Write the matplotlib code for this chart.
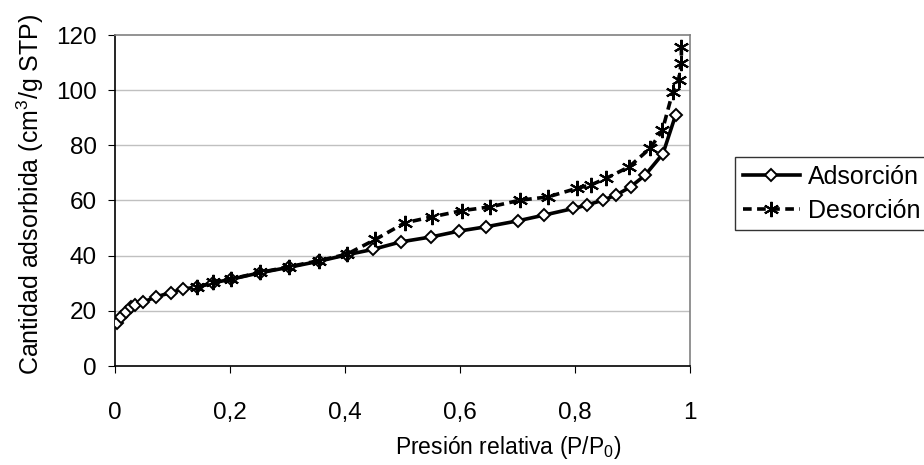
import matplotlib
matplotlib.use("Agg")
import matplotlib.pyplot as plt

plt.rcParams['font.family'] = ['Liberation Sans', 'DejaVu Sans']
plt.rcParams['mathtext.fontset'] = 'custom'
plt.rcParams['mathtext.rm'] = 'Liberation Sans'
plt.rcParams['mathtext.it'] = 'Liberation Sans:italic'

# Adsorption branch (relative pressure, cm3/g STP)
ads_x = [0.003, 0.010, 0.019, 0.028, 0.035, 0.048, 0.072, 0.097, 0.119, 0.142,
         0.171, 0.201, 0.252, 0.303, 0.355, 0.403, 0.449, 0.497, 0.550, 0.598,
         0.646, 0.700, 0.746, 0.797, 0.820, 0.848, 0.872, 0.897, 0.922, 0.953,
         0.975]
ads_y = [15.7, 17.6, 19.7, 21.3, 22.1, 23.1, 25.1, 26.6, 28.0, 28.5,
         30.2, 31.4, 33.8, 35.8, 38.0, 40.3, 42.3, 45.0, 46.8, 48.9,
         50.5, 52.6, 54.7, 57.1, 58.3, 60.1, 62.0, 65.0, 69.2, 77.0,
         91.0]

# Desorption branch
des_x = [0.985, 0.985, 0.980, 0.970, 0.952, 0.931, 0.894, 0.854, 0.827, 0.803,
         0.753, 0.704, 0.653, 0.603, 0.552, 0.504, 0.453, 0.403, 0.355, 0.303,
         0.252, 0.201, 0.171, 0.142]
des_y = [115.7, 109.9, 103.6, 99.4, 85.5, 79.0, 72.2, 68.0, 65.6, 64.4,
         61.3, 60.1, 57.7, 56.3, 54.1, 51.9, 45.9, 40.5, 38.2, 36.0,
         33.9, 31.5, 30.3, 28.5]

x_ticks = [0, 0.2, 0.4, 0.6, 0.8, 1]
x_labels = ['0', '0,2', '0,4', '0,6', '0,8', '1']
y_ticks = [0, 20, 40, 60, 80, 100, 120]

fig = plt.figure(figsize=(9.24, 4.65), dpi=100)
ax = fig.add_axes([115/924, 1 - 366/465, 575/924, 331/465])

ax.plot(ads_x, ads_y, color='black', lw=2.6, marker='D', ms=6.5,
        mfc='white', mec='black', mew=1.4, label='Adsorción', zorder=3)
ax.plot(des_x, des_y, color='black', lw=2.6, linestyle=(0, (2.4, 1.5)),
        marker=(6, 2, 0), ms=11, mec='black', mew=1.5, label='Desorción',
        zorder=4)

ax.set_xlim(0, 1)
ax.set_ylim(0, 120)
ax.set_xticks(x_ticks)
ax.set_xticklabels(x_labels)
ax.set_yticks(y_ticks)
ax.tick_params(axis='x', direction='out', length=5, pad=21, labelsize=17.5)
ax.tick_params(axis='y', direction='out', length=5, pad=8, labelsize=17.5)

for y in y_ticks[1:-1]:
    ax.axhline(y, color='#c0c0c0', lw=1, zorder=1)

ax.spines['left'].set_color('black')
ax.spines['bottom'].set_color('black')
ax.spines['top'].set_color('#808080')
ax.spines['right'].set_color('#808080')
for s in ax.spines.values():
    s.set_linewidth(1.2)

ax.set_xlabel('Presión relativa (P/P$_0$)', fontsize=16.5)
ax.xaxis.set_label_coords(0.683, -0.205)
ax.set_ylabel('Cantidad adsorbida (cm$^3$/g STP)', fontsize=18)
ax.yaxis.set_label_coords(-0.12, 0.52)

leg = fig.legend(loc='upper left', bbox_to_anchor=(735/924, 1 - 157/465),
                 borderaxespad=0, fontsize=18, frameon=True, fancybox=False,
                 edgecolor='black', handlelength=2.3, handletextpad=0.3,
                 labelspacing=0.4, borderpad=0.3)
leg.get_frame().set_linewidth(1.0)

fig.savefig('out.png', dpi=100)
